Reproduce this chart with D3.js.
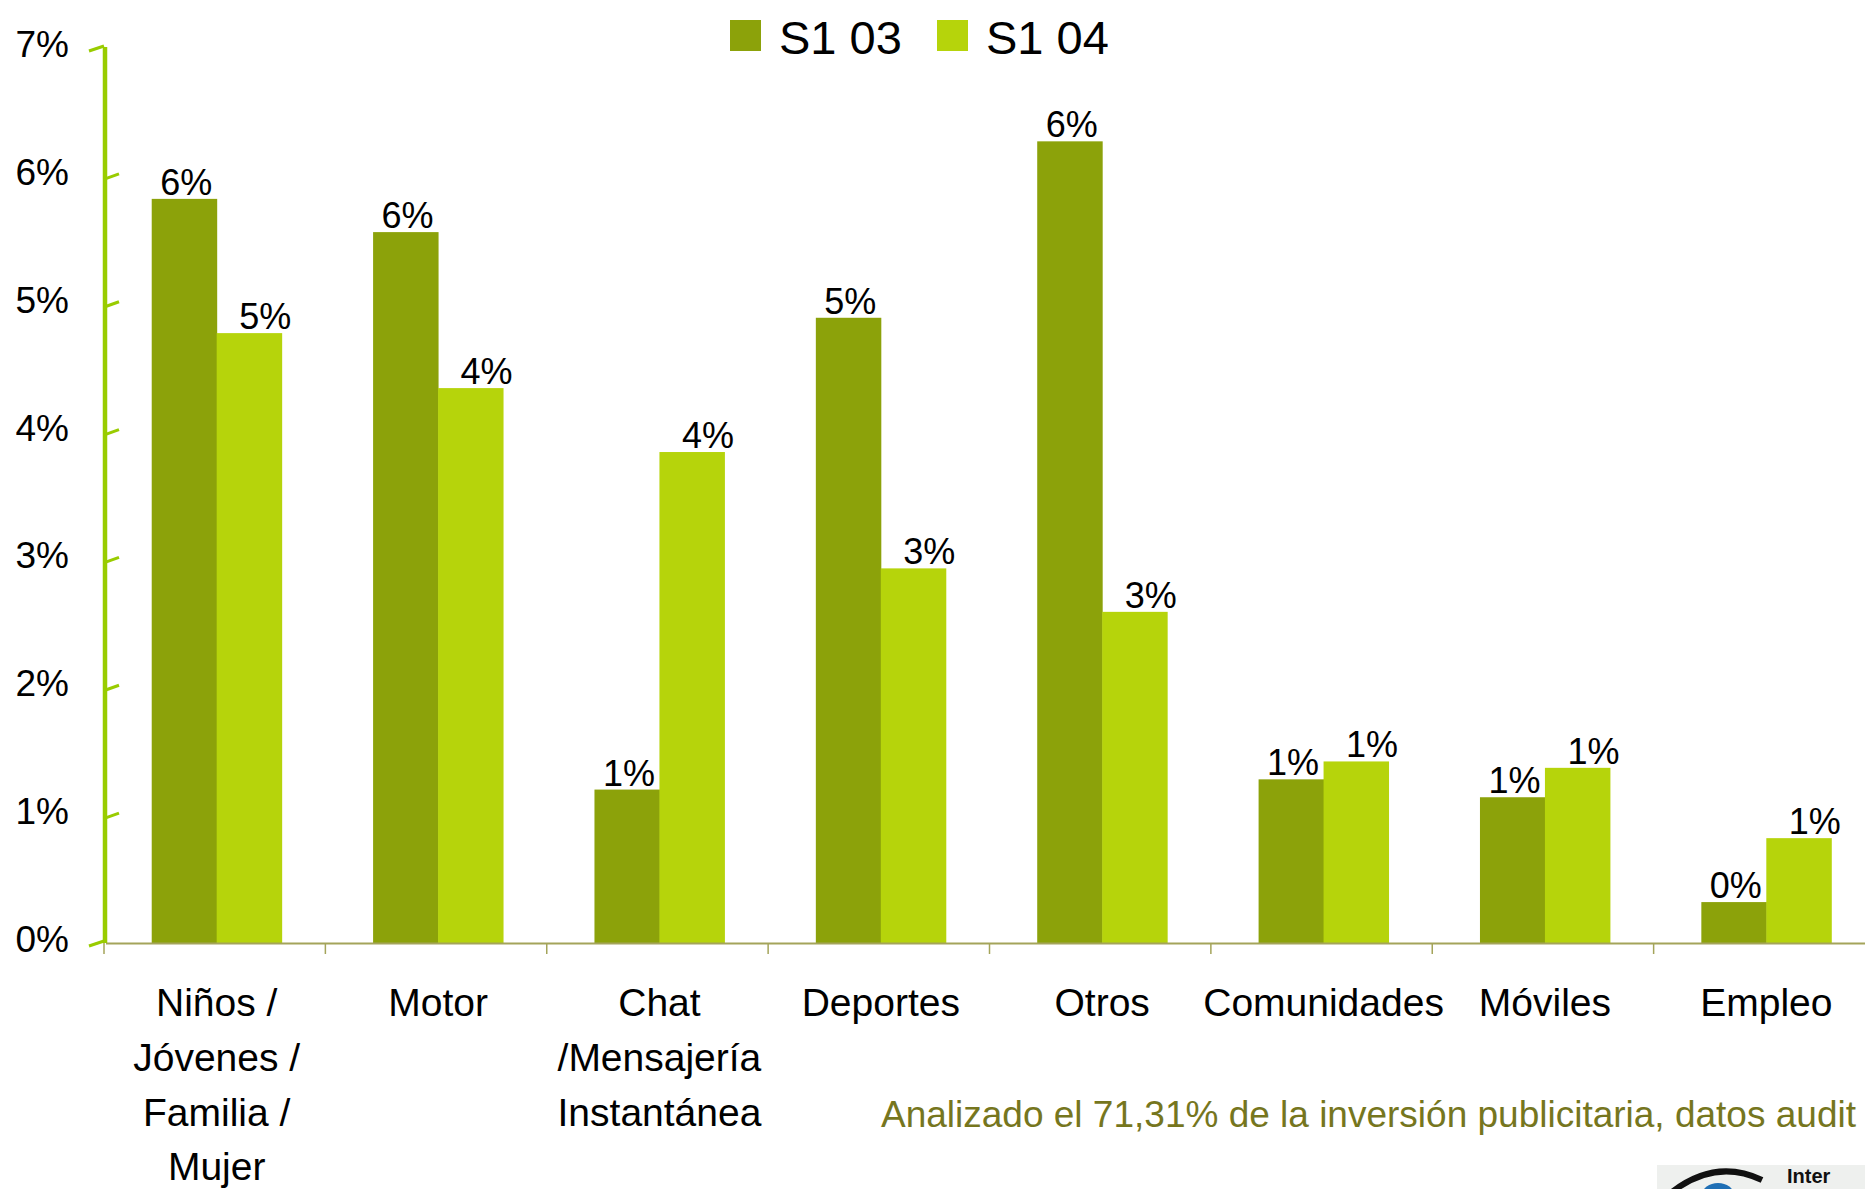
<!DOCTYPE html>
<html>
<head>
<meta charset="utf-8">
<script src="https://d3js.org/d3.v7.min.js"></script>
<style>
  body { margin: 0; background: #fff; }
  svg { display: block; overflow: hidden; }
  text { font-family: "Liberation Sans", Arial, sans-serif; }
</style>
</head>
<body>
<div id="chart"></div>
<script>

// data (percent of investment)
var categories = ["Niños", "Motor", "Chat", "Deportes", "Otros", "Comunidades", "Móviles", "Empleo"];
var categoryLines = [
  ["Niños /", "Jóvenes /", "Familia /", "Mujer"],
  ["Motor"],
  ["Chat", "/Mensajería", "Instantánea"],
  ["Deportes"],
  ["Otros"],
  ["Comunidades"],
  ["Móviles"],
  ["Empleo"]
];
var seriesNames = ["S1 03", "S1 04"];
var s103 = [5.82, 5.56, 1.20, 4.89, 6.27, 1.28, 1.14, 0.32];
var s104 = [4.77, 4.34, 3.84, 2.93, 2.59, 1.42, 1.37, 0.82];
var yTicks = [0, 1, 2, 3, 4, 5, 6, 7];
var note = "Analizado el 71,31% de la inversión publicitaria, datos audit";

var width = 1865;
var height = 1189;
var colors = ["#8ca20a", "#b6d40b"];
var labelShift = [2, 16];

var svg = d3.select("#chart").append("svg")
    .attr("width", width)
    .attr("height", height);

var x0 = d3.scaleBand()
    .domain(categories)
    .range([106, 1877])
    .padding(0);

var groupW = x0.bandwidth() * 0.587;
var x1 = d3.scaleBand()
    .domain(seriesNames)
    .range([0, groupW]);

var y = d3.scaleLinear()
    .domain([0, 7])
    .range([943, 48]);

var rows = categories.map(function(c, i) {
  return {cat: c, lines: categoryLines[i], vals: [s103[i], s104[i]]};
});

// bars
var groups = svg.append("g").selectAll("g")
    .data(rows)
  .enter().append("g")
    .attr("transform", function(d) {
      return "translate(" + (x0(d.cat) + (x0.bandwidth() - groupW) / 2) + ",0)";
    });

groups.selectAll("rect")
    .data(function(d) { return d.vals.map(function(v, k) { return {s: seriesNames[k], k: k, v: v}; }); })
  .enter().append("rect")
    .attr("x", function(d) { return x1(d.s); })
    .attr("width", x1.bandwidth() + 0.5)
    .attr("y", function(d) { return y(d.v); })
    .attr("height", function(d) { return y(0) - y(d.v); })
    .attr("fill", function(d) { return colors[d.k]; });

groups.selectAll("text")
    .data(function(d) { return d.vals.map(function(v, k) { return {s: seriesNames[k], k: k, v: v}; }); })
  .enter().append("text")
    .attr("x", function(d) { return x1(d.s) + x1.bandwidth() / 2 + labelShift[d.k]; })
    .attr("y", function(d) { return y(d.v) - 4; })
    .attr("text-anchor", "middle")
    .attr("font-size", 36)
    .attr("fill", "#000")
    .text(function(d) { return Math.round(d.v) + "%"; });

// x axis
var xAxis = svg.append("g");
xAxis.append("line")
    .attr("x1", 106).attr("x2", width)
    .attr("y1", y(0) + 0.5).attr("y2", y(0) + 0.5)
    .attr("stroke", "#a4a45a")
    .attr("stroke-width", 2);
xAxis.selectAll(".xtick")
    .data(categories)
  .enter().append("line")
    .attr("class", "xtick")
    .attr("x1", function(d) { return x0(d) - 2; })
    .attr("x2", function(d) { return x0(d) - 2; })
    .attr("y1", y(0))
    .attr("y2", y(0) + 11)
    .attr("stroke", "#a4a45a")
    .attr("stroke-width", 1.5);

var catLabels = xAxis.selectAll(".xlab")
    .data(rows)
  .enter().append("text")
    .attr("class", "xlab")
    .attr("text-anchor", "middle")
    .attr("font-size", 39)
    .attr("fill", "#000");
catLabels.selectAll("tspan")
    .data(function(d) { return d.lines.map(function(l) { return {cat: d.cat, l: l}; }); })
  .enter().append("tspan")
    .attr("x", function(d) { return x0(d.cat) + x0.bandwidth() / 2; })
    .attr("y", function(d, i) { return 1016 + i * 54.8; })
    .text(function(d) { return d.l; });

// y axis, slanted ticks like the original
var yAxis = svg.append("g");
yAxis.append("line")
    .attr("x1", 105).attr("x2", 105)
    .attr("y1", y(7) - 1).attr("y2", y(0))
    .attr("stroke", "#99cc00")
    .attr("stroke-width", 4.5);
yAxis.selectAll(".ytick")
    .data(yTicks)
  .enter().append("line")
    .attr("class", "ytick")
    .attr("x1", function(d) { return (d == 0 || d == 7) ? 89 : 105; })
    .attr("x2", function(d) { return (d == 0 || d == 7) ? 104 : 119; })
    .attr("y1", function(d) { return y(d) + 3; })
    .attr("y2", function(d) { return y(d) - 2; })
    .attr("stroke", "#99cc00")
    .attr("stroke-width", 3);
yAxis.selectAll(".ylab")
    .data(yTicks)
  .enter().append("text")
    .attr("class", "ylab")
    .attr("x", 69)
    .attr("y", function(d) { return y(d) + 9; })
    .attr("text-anchor", "end")
    .attr("font-size", 37)
    .attr("fill", "#000")
    .text(function(d) { return d + "%"; });

// legend
var legendX = [730, 937];
var legend = svg.append("g").selectAll("g")
    .data(seriesNames)
  .enter().append("g")
    .attr("transform", function(d, i) { return "translate(" + legendX[i] + ",20)"; });
legend.append("rect")
    .attr("width", 31).attr("height", 31)
    .attr("fill", function(d, i) { return colors[i]; });
legend.append("text")
    .attr("x", 49).attr("y", 34)
    .attr("font-size", 47)
    .attr("fill", "#000")
    .text(function(d) { return d; });

// footnote
svg.append("text")
    .attr("x", 881)
    .attr("y", 1127)
    .attr("font-size", 37)
    .attr("fill", "#76761e")
    .text(note);

// partial logo in the corner
var logo = svg.append("g");
logo.append("rect")
    .attr("x", 1657).attr("y", 1165)
    .attr("width", 208).attr("height", 24)
    .attr("fill", "#eef0ee");
logo.append("ellipse")
    .attr("cx", 1718).attr("cy", 1195)
    .attr("rx", 16).attr("ry", 12)
    .attr("fill", "#1f6fb5");
logo.append("path")
    .attr("d", "M1672,1192 Q1716,1158 1762,1180")
    .attr("fill", "none")
    .attr("stroke", "#111")
    .attr("stroke-width", 6);
logo.append("text")
    .attr("x", 1787).attr("y", 1183)
    .attr("font-size", 20)
    .attr("font-weight", "bold")
    .attr("fill", "#111")
    .text("Inter");

</script>
</body>
</html>
